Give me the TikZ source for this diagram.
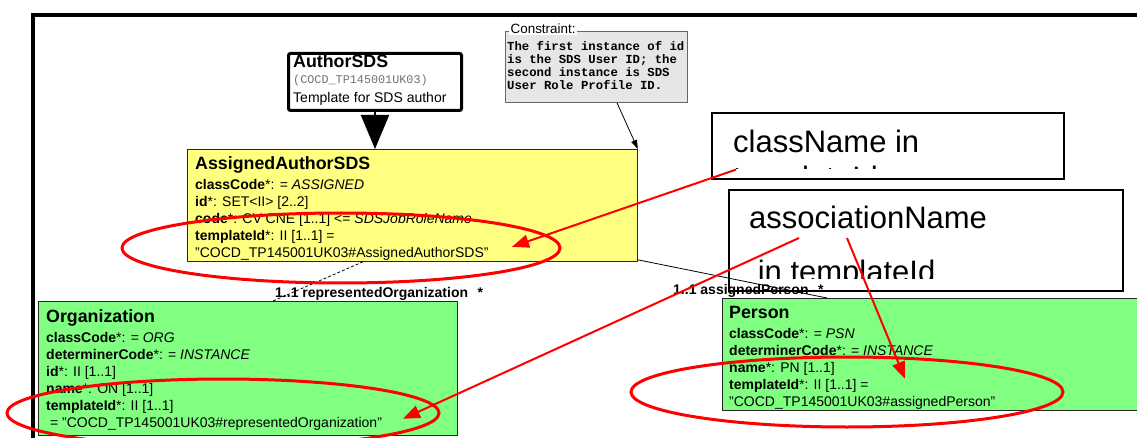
\documentclass[tikz,border=0pt]{standalone}
\usepackage{fontspec}
\setmainfont{Liberation Sans}
\newfontfamily\monof{Liberation Mono}
\usetikzlibrary{arrows.meta,calc}
\definecolor{ylw}{HTML}{FFFF80}
\definecolor{grn}{HTML}{80FF80}
\definecolor{cgray}{HTML}{E6E6E6}
\tikzset{
  umlbox/.style={draw=black!85, line width=0.8pt, inner sep=0pt, anchor=north west},
  body/.style={font=\fontsize{14}{17}\selectfont, inner sep=0pt, anchor=base west},
  ttl/.style={font=\fontsize{17.8}{20}\selectfont\bfseries, inner sep=0pt, anchor=base west},
  lbl/.style={font=\fontsize{14}{17}\selectfont\bfseries, inner sep=0pt, anchor=base west},
  cmono/.style={font=\fontsize{12.3}{13}\selectfont\monof\bfseries, inner sep=0pt, anchor=base west},
  big/.style={font=\fontsize{31}{36}\selectfont, inner sep=0pt, anchor=base west},
  callout/.style={draw=black, line width=1.6pt, fill=white, inner sep=0pt, anchor=north west},
  conn/.style={draw=black, line width=0.8pt},
  redell/.style={draw=red, line width=3pt},
  redarr/.style={draw=red, line width=2pt, -{Triangle[length=17pt,width=13pt]}}
}
\newcommand\txtline[3]{\node[body] (#1) at (#2) {#3};}
\begin{document}
\begin{tikzpicture}[x=1pt,y=-1pt]
\useasboundingbox (0,0) rectangle (1137,438);
\clip (0,0) rectangle (1137,438);
\fill[white] (0,0) rectangle (1137,438);

% frame
\draw[line width=4pt] (33,445) -- (33,14.7) -- (1145,14.7);

% constraint box
\node[draw=black!60, line width=0.8pt, fill=cgray, inner sep=0pt, anchor=north west,
      minimum width=182pt, minimum height=71pt] (cb) at (505,31) {};
\node[fill=white, inner sep=1.5pt, anchor=base west, font=\fontsize{13.4}{15}\selectfont] (cbl) at (509,33.5) {Constraint:};
\node[cmono] (c1) at (507,50.5) {The first instance of id};
\node[cmono] (c2) at (507,63.5) {is the SDS User ID; the};
\node[cmono] (c3) at (507,76.5) {second instance is SDS};
\node[cmono] (c4) at (507,89.5) {User Role Profile ID.};

% AuthorSDS box
\node[draw=black, line width=3pt, rounded corners=2pt, fill=white, inner sep=0pt, anchor=north west,
      minimum width=173pt, minimum height=57pt] (au) at (287,52) {};
\node[ttl] (aut) at (293,68) {AuthorSDS};
\node[inner sep=0pt, anchor=base west, text=black!55, font=\fontsize{11.8}{13}\selectfont\monof] (aum) at (293,84) {(COCD\_TP145001UK03)};
\txtline{aud}{293,103}{Template for SDS author}

% AssignedAuthorSDS
\node[umlbox, fill=ylw, minimum width=450pt, minimum height=112pt] (ya) at (187,149) {};
\node[ttl] (yat) at (195,169.5) {AssignedAuthorSDS};
\txtline{ya1}{195,190}{\textbf{classCode}*: = \textit{ASSIGNED}}
\txtline{ya2}{195,207}{\textbf{id}*: SET<II> [2..2]}
\txtline{ya3}{195,224}{\textbf{code}*: CV CNE [1..1] <= \textit{SDSJobRoleName}}
\txtline{ya4}{195,241}{\textbf{templateId}*: II [1..1] =}
\txtline{ya5}{195,258}{"COCD\_TP145001UK03\#AssignedAuthorSDS"}

% Organization
\node[umlbox, fill=grn, minimum width=419pt, minimum height=134pt] (org) at (38,301) {};
\node[ttl] (orgt) at (46,322) {Organization};
\txtline{or1}{46,342}{\textbf{classCode}*: = \textit{ORG}}
\txtline{or2}{46,359}{\textbf{determinerCode}*: = \textit{INSTANCE}}
\txtline{or3}{46,376}{\textbf{id}*: II [1..1]}
\txtline{or4}{46,393}{\textbf{name}*: ON [1..1]}
\txtline{or5}{46,410}{\textbf{templateId}*: II [1..1]}
\txtline{or6}{46,427}{\ = "COCD\_TP145001UK03\#representedOrganization"}

% Person
\node[umlbox, fill=grn, minimum width=430pt, minimum height=112pt] (per) at (722,298) {};
\node[ttl] (pert) at (729,318) {Person};
\txtline{pe1}{729,338}{\textbf{classCode}*: = \textit{PSN}}
\txtline{pe2}{729,355}{\textbf{determinerCode}*: = \textit{INSTANCE}}
\txtline{pe3}{729,372}{\textbf{name}*: PN [1..1]}
\txtline{pe4}{729,389}{\textbf{templateId}*: II [1..1] =}
\txtline{pe5}{729,406}{"COCD\_TP145001UK03\#assignedPerson"}

% callout boxes
\node[callout, minimum width=352pt, minimum height=66pt] (cn) at (711,112) {};
\node[big] (cnt) at (733,153) {className in};
\begin{scope}
  \clip (711,112) rectangle (1063,168.5);
  \node[big, text depth=0pt] (cnt2) at (733,189) {templateId};
\end{scope}
\node[callout, minimum width=394pt, minimum height=101pt] (an) at (728,189) {};
\node[big] (ant) at (749,229) {associationName};
\begin{scope}
  \clip (728,189) rectangle (1122,278);
  \node[big, text depth=0pt] (ant2) at (749,283) {\ in templateId};
\end{scope}

% connectors
\draw[line width=2pt, -{Triangle[length=34pt,width=28pt]}] (au.south) -- (au.south |- ya.north);
\draw[conn, -{Triangle[length=9pt,width=6pt]}] ([xshift=112pt]cb.south west) -- (ya.north east);
\draw[conn, dashed, dash pattern=on 3pt off 2pt] ([xshift=176pt]ya.south west) -- ([xshift=235pt]org.north west);
\draw[conn] ([yshift=2pt]ya.south east) -- ([xshift=105pt]per.north west);
\node[lbl] (l1) at (275,297) {1..1 representedOrganization\hspace{9.5pt}*};
\node[lbl] (l2) at (673,294.5) {1..1 assignedPerson\hspace{9.5pt}*};

% red highlights
\draw[redell] (341,248) ellipse [x radius=219, y radius=35];
\draw[redell] (223,413) ellipse [x radius=216, y radius=34];
\draw[redell] (847,392) ellipse [x radius=216, y radius=35];
\draw[redarr] ([xshift=25pt,yshift=10pt]cn.south west) -- ([xshift=325pt,yshift=15pt]ya.south west);
\draw[redarr] ([xshift=71pt,yshift=-49pt]an.north west) -- ([xshift=365pt,yshift=17pt]org.south west);
\draw[redarr] ([xshift=119pt,yshift=-49pt]an.north west) -- ([xshift=183pt,yshift=32pt]per.south west);
\end{tikzpicture}
\end{document}
